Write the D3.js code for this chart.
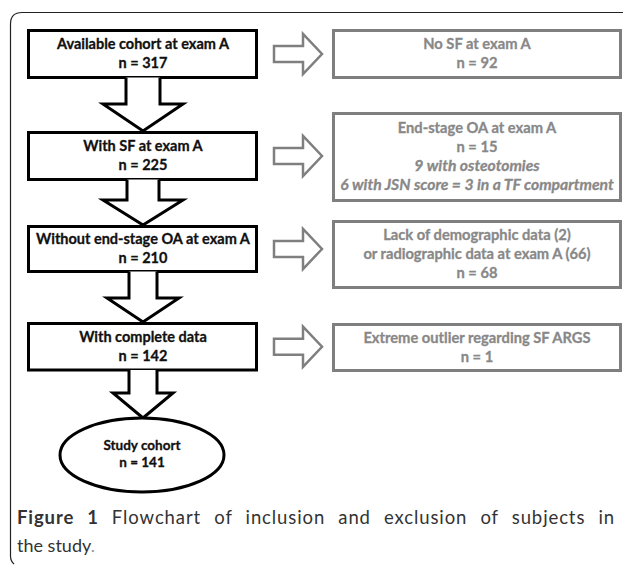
<!DOCTYPE html>
<html>
<head>
<meta charset="utf-8">
<script src="https://cdn.jsdelivr.net/npm/d3@7"></script>
<style>
  body { margin: 0; background: #fff; }
  svg { display: block; }
</style>
</head>
<body>
<div id="chart"></div>
<script>
// flowchart of inclusion / exclusion

// data
const STAGE_LABELS = ["Available cohort at exam A", "With SF at exam A",
                      "Without end-stage OA at exam A", "With complete data"];
const STAGE_N = [317, 225, 210, 142];
const FINAL_LABEL = "Study cohort";
const FINAL_N = 141;

const EXCL_LABELS = [["No SF at exam A"], ["End-stage OA at exam A"],
                     ["Lack of demographic  data (2)", "or radiographic  data at exam A (66)"],
                     ["Extreme outlier regarding SF ARGS"]];
const EXCL_N = [92, 15, 68, 1];
const EXCL_NOTES = [[], ["9 with osteotomies", "6 with JSN score = 3 in a TF compartment"], [], []];

const CAPTION_BOLD = "Figure 1";
const CAPTION_TEXT = " Flowchart of inclusion and exclusion of subjects in";
const CAPTION_LINE2 = "the study";

// layout
const FRAME_WIDTH = 627;
const FRAME_HEIGHT = 567;
const LEFT = {x0: 28.5, x1: 256.5, cx: 143};
const RIGHT = {x0: 333.5, x1: 620.5, cx: 477};
const STAGE_BOX = [[30.5, 77.5], [132.5, 179.5], [226.5, 271.5], [323.5, 370]];
const EXCL_BOX = [[30.5, 77.5], [113.5, 200.5], [221.5, 287.5], [324.5, 370.5]];
// shaft half width, head half width, head top, tip (per down arrow)
const DOWN_ARROWS = [[17, 40, 104, 131], [16, 40, 200, 225], [14, 36, 298, 322], [14, 30, 393, 418]];
const ELLIPSE = {cx: 142, cy: 455, rx: 82, ry: 37};
const LINE_H = 19;

const BOLD_FONT = "Lato, 'Open Sans', sans-serif";
const GREY = "#7f7f7f";

const svg = d3.select("#chart")
                .append("svg")
                  .attr("width", FRAME_WIDTH)
                  .attr("height", FRAME_HEIGHT);

// outer frame (only top and left edges visible)
svg.append("path")
    .attr("d", "M623,12.5 L22,12.5 Q10.5,12.5 10.5,24 L10.5,556 Q10.5,561 14,564")
    .attr("fill", "none")
    .attr("stroke", "#222")
    .attr("stroke-width", 1.2);

// text block helper
function textBlock(g, cx, cy, lines, color, size, lh) {
  const first = cy - (lines.length - 1) * lh / 2 + size * 0.34;
  lines.forEach((l, i) => {
    g.append("text")
      .attr("x", cx)
      .attr("y", first + i * lh)
      .attr("text-anchor", "middle")
      .attr("font-family", BOLD_FONT)
      .attr("font-size", l.italic ? size + 1 : size)
      .attr("font-weight", "bold")
      .attr("font-style", l.italic ? "italic" : "normal")
      .attr("fill", color)
      .attr("stroke", color)
      .attr("stroke-width", 0.3)
      .text(l.t);
  });
}

// left boxes
const stages = svg.selectAll(".stage")
                  .data(STAGE_LABELS)
                  .enter().append("g")
                    .attr("class", "stage");

stages.append("rect")
  .attr("x", LEFT.x0)
  .attr("y", (d, i) => STAGE_BOX[i][0])
  .attr("width", LEFT.x1 - LEFT.x0)
  .attr("height", (d, i) => STAGE_BOX[i][1] - STAGE_BOX[i][0])
  .attr("fill", "#fff")
  .attr("stroke", "#000")
  .attr("stroke-width", 3);

stages.each(function(d, i) {
  const cy = (STAGE_BOX[i][0] + STAGE_BOX[i][1]) / 2;
  textBlock(d3.select(this), LEFT.cx, cy,
            [{t: d}, {t: "n = " + STAGE_N[i]}], "#111", 14.5, LINE_H);
});

// down arrows
svg.selectAll(".down")
  .data(DOWN_ARROWS)
  .enter().append("path")
    .attr("class", "down")
    .attr("d", (d, i) => {
      const top = STAGE_BOX[i][1];
      const cx = LEFT.cx;
      return "M" + (cx - d[0]) + "," + top +
             " L" + (cx - d[0]) + "," + d[2] +
             " L" + (cx - d[1]) + "," + d[2] +
             " L" + cx + "," + d[3] +
             " L" + (cx + d[1]) + "," + d[2] +
             " L" + (cx + d[0]) + "," + d[2] +
             " L" + (cx + d[0]) + "," + top;
    })
    .attr("fill", "#fff")
    .attr("stroke", "#000")
    .attr("stroke-width", 3)
    .attr("stroke-linejoin", "miter");

// final ellipse
svg.append("ellipse")
  .attr("cx", ELLIPSE.cx)
  .attr("cy", ELLIPSE.cy)
  .attr("rx", ELLIPSE.rx)
  .attr("ry", ELLIPSE.ry)
  .attr("fill", "#fff")
  .attr("stroke", "#000")
  .attr("stroke-width", 3);

textBlock(svg, ELLIPSE.cx, ELLIPSE.cy - 1,
          [{t: FINAL_LABEL}, {t: "n = " + FINAL_N}], "#111", 13.5, 17);

// right (exclusion) boxes
const excl = svg.selectAll(".excl")
                .data(EXCL_LABELS)
                .enter().append("g")
                  .attr("class", "excl");

excl.append("rect")
  .attr("x", RIGHT.x0)
  .attr("y", (d, i) => EXCL_BOX[i][0])
  .attr("width", RIGHT.x1 - RIGHT.x0)
  .attr("height", (d, i) => EXCL_BOX[i][1] - EXCL_BOX[i][0])
  .attr("fill", "#fff")
  .attr("stroke", GREY)
  .attr("stroke-width", 3);

excl.each(function(d, i) {
  const cy = (EXCL_BOX[i][0] + EXCL_BOX[i][1]) / 2;
  const lines = d.map(t => ({t: t}))
                 .concat([{t: "n = " + EXCL_N[i]}])
                 .concat(EXCL_NOTES[i].map(t => ({t: t, italic: true})));
  textBlock(d3.select(this), RIGHT.cx, cy, lines, "#888", 14.7, LINE_H);
});

// right arrows
svg.selectAll(".side")
  .data(STAGE_BOX)
  .enter().append("path")
    .attr("class", "side")
    .attr("d", d => {
      const cy = (d[0] + d[1]) / 2;
      const x0 = 274, xh = 303, x1 = 322;
      return "M" + x0 + "," + (cy - 8) +
             " L" + xh + "," + (cy - 8) +
             " L" + xh + "," + (cy - 20) +
             " L" + x1 + "," + cy +
             " L" + xh + "," + (cy + 20) +
             " L" + xh + "," + (cy + 8) +
             " L" + x0 + "," + (cy + 8) + " Z";
    })
    .attr("fill", "#fff")
    .attr("stroke", GREY)
    .attr("stroke-width", 2.5);

// caption
const CAP_FONT = "Lato, 'Open Sans', sans-serif";
const cap1 = svg.append("text")
  .attr("x", 17)
  .attr("y", 524)
  .attr("font-family", CAP_FONT)
  .attr("font-size", 18.5)
  .attr("letter-spacing", 0.9)
  .attr("fill", "#333");
cap1.append("tspan").attr("font-weight", "bold").text(CAPTION_BOLD);
cap1.append("tspan").text(CAPTION_TEXT);

// justify the first line to the right edge with word spacing
const target = 615 - 17;
const len = cap1.node().getComputedTextLength();
const spaces = (CAPTION_BOLD + CAPTION_TEXT).split(" ").length - 1;
cap1.attr("word-spacing", (target - len) / spaces);

const cap2 = svg.append("text")
  .attr("x", 17)
  .attr("y", 552)
  .attr("font-family", CAP_FONT)
  .attr("font-size", 18)
  .attr("fill", "#333");
cap2.append("tspan").text(CAPTION_LINE2);
cap2.append("tspan").attr("fill", "#999").text(".");
</script>
</body>
</html>
